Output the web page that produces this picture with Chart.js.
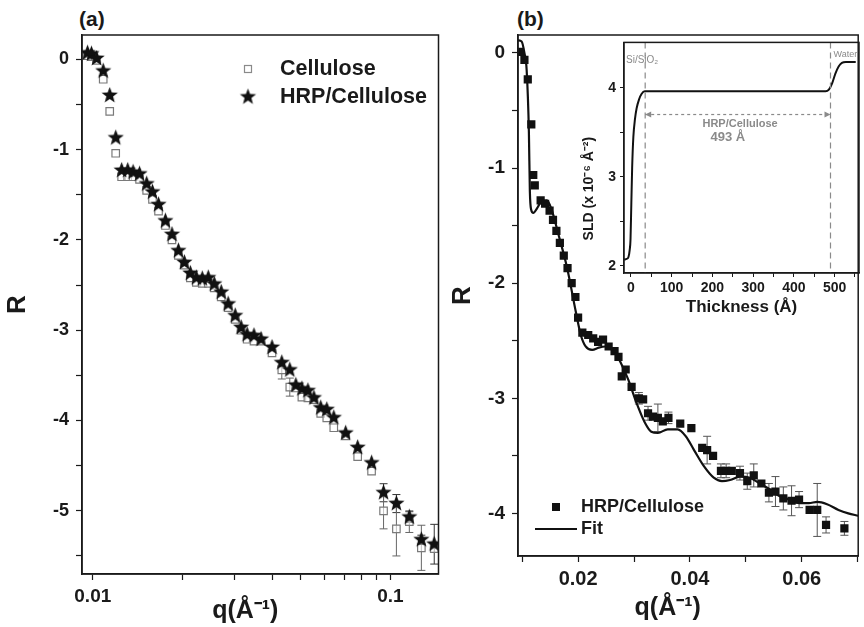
<!DOCTYPE html>
<html>
<head>
<meta charset="utf-8">
<script src="https://cdn.jsdelivr.net/npm/chart.js@4.4.0/dist/chart.umd.min.js"></script>
<style>
  body { margin: 0; background: #fff; width: 864px; height: 627px; overflow: hidden; position: relative; font-family: "Liberation Sans", Arial, sans-serif; }
  canvas { position: absolute; }
  #cA { left: 0; top: 0; }
  #cB { left: 445px; top: 0; }
  #cI { left: 570px; top: 30px; }
  .panel { position: absolute; font-weight: bold; font-size: 21px; color: #1a1a1a; }
</style>
</head>
<body>
<div class="panel" style="left:79px;top:7px">(a)</div>
<div class="panel" style="left:517px;top:7px">(b)</div>
<canvas id="cA" width="445" height="627"></canvas>
<canvas id="cB" width="419" height="627"></canvas>
<canvas id="cI" width="294" height="290"></canvas>
<script>
// ---- panel (a): reflectivity, log q ----
const qA = [0.0096, 0.0099, 0.0103, 0.01084, 0.0114, 0.01194, 0.0125, 0.0131, 0.01366, 0.01436,
  0.01517, 0.01587, 0.01663, 0.01754, 0.01845, 0.01939, 0.0203, 0.02127, 0.02228, 0.02333,
  0.02443, 0.02559, 0.027, 0.0285, 0.0301, 0.0315, 0.033, 0.0348, 0.03675, 0.04,
  0.04315, 0.0459, 0.0481, 0.0504, 0.0528, 0.0553, 0.0583, 0.0611, 0.0645, 0.0707,
  0.0776, 0.0864, 0.0948, 0.1047, 0.1157, 0.127, 0.1403];
const hrpCellR = [0.07, 0.06, 0.01, -0.13, -0.40, -0.87, -1.23, -1.23, -1.25, -1.27,
  -1.38, -1.47, -1.61, -1.79, -1.94, -2.12, -2.25, -2.37, -2.42, -2.43,
  -2.42, -2.49, -2.58, -2.71, -2.84, -2.97, -3.05, -3.06, -3.10, -3.19,
  -3.36, -3.44, -3.61, -3.65, -3.67, -3.75, -3.86, -3.88, -3.97, -4.14,
  -4.30, -4.47, -4.80, -4.92, -5.07, -5.32, -5.37];
const hrpCellErr = [0,0,0,0,0,0,0,0,0,0, 0,0,0,0,0,0,0,0,0,0, 0,0,0,0,0,0,0,0,0,0,
  0,0,0,0,0,0,0,0,0,0, 0,0,0.1,0.1,0.06,0.05,0.22];
const celluloseR = [0.04, 0.03, -0.01, -0.22, -0.575, -1.04, -1.30, -1.30, -1.30, -1.33,
  -1.45, -1.55, -1.68, -1.84, -2.0, -2.17, -2.28, -2.42, -2.47, -2.48,
  -2.48, -2.53, -2.63, -2.75, -2.88, -3.0, -3.1, -3.12, -3.12, -3.25,
  -3.44, -3.63, -3.64, -3.74, -3.75, -3.77, -3.92, -3.97, -4.08, -4.17,
  -4.40, -4.56, -5.0, -5.2, -5.12, -5.41, -5.42];
const celluloseErr = [0,0,0,0,0,0,0,0,0,0, 0,0,0,0,0,0,0,0,0,0, 0,0,0,0,0,0,0,0,0,0,
  0.1,0.1,0,0,0,0,0,0,0,0, 0,0,0.2,0.3,0.12,0.25,0];
const aXTicks = [0.01, 0.02, 0.03, 0.04, 0.05, 0.06, 0.07, 0.08, 0.09, 0.1];
const aXLabels = [0.01, 0.1];
const aYTicks = [0, -0.5, -1, -1.5, -2, -2.5, -3, -3.5, -4, -4.5, -5, -5.5];

// ---- panel (b): reflectivity + fit, linear q ----
const qB = [0.0096, 0.0104, 0.0110, 0.01163, 0.01198, 0.01225, 0.0133, 0.0141, 0.0149, 0.01551,
  0.01612, 0.01674, 0.01744, 0.01811, 0.01885, 0.01952, 0.0200, 0.02076, 0.02181, 0.0227,
  0.02358, 0.02446, 0.02546, 0.02652, 0.02722, 0.02781, 0.02851, 0.02957, 0.03087, 0.03163,
  0.03251, 0.03339, 0.03427, 0.03515, 0.03616, 0.03827, 0.04026, 0.0422, 0.04308, 0.04414,
  0.04555, 0.04648, 0.04749, 0.04895, 0.05026, 0.05142, 0.05278, 0.05413, 0.0553, 0.05671,
  0.05818, 0.05952, 0.06141, 0.06277, 0.06435, 0.06763];
const rB = [0.01, -0.06, -0.23, -0.62, -1.06, -1.15, -1.28, -1.31, -1.37, -1.45,
  -1.545, -1.65, -1.76, -1.87, -2.0, -2.12, -2.30, -2.43, -2.45, -2.48,
  -2.51, -2.49, -2.55, -2.59, -2.64, -2.81, -2.75, -2.90, -3.0, -3.01,
  -3.13, -3.16, -3.17, -3.2, -3.17, -3.22, -3.26, -3.43, -3.45, -3.50,
  -3.63, -3.63, -3.63, -3.65, -3.72, -3.67, -3.74, -3.82, -3.81, -3.87,
  -3.89, -3.88, -3.97, -3.97, -4.10, -4.13];
const rBErr = [0,0,0,0,0,0,0,0,0,0, 0,0,0,0,0,0,0,0,0,0, 0,0,0,0,0,0,0,0,0.05,0,
  0.06,0,0.12,0,0.05,0,0,0,0.12,0, 0.06,0.06,0,0.06,0.07,0.1,0,0.08,0.13,0.1,
  0.13,0.07,0,0.23,0.07,0.06];
const fitQ = [0.00925, 0.0099, 0.0104, 0.0108, 0.0112, 0.01137, 0.0116, 0.0120, 0.01265, 0.01343,
  0.01441, 0.01519, 0.0165, 0.018, 0.0196, 0.02048, 0.02135, 0.02252, 0.0237, 0.02488,
  0.02634, 0.02752, 0.02899, 0.03045, 0.03193, 0.03309, 0.03427, 0.03603, 0.0378, 0.03926,
  0.04074, 0.0425, 0.04426, 0.04573, 0.04719, 0.04895, 0.05071, 0.05248, 0.05424, 0.056,
  0.05776, 0.05952, 0.06129, 0.06277, 0.06453, 0.06657, 0.06833, 0.0701];
const fitR = [0.11, 0.10, 0.0, -0.15, -0.69, -1.2, -1.36, -1.39, -1.35, -1.29,
  -1.28, -1.35, -1.58, -1.86, -2.25, -2.45, -2.55, -2.58, -2.56, -2.55,
  -2.58, -2.68, -2.84, -3.04, -3.21, -3.29, -3.30, -3.27, -3.27, -3.33,
  -3.45, -3.59, -3.69, -3.72, -3.71, -3.68, -3.69, -3.74, -3.79, -3.85,
  -3.88, -3.91, -3.91, -3.90, -3.92, -3.97, -4.0, -4.02];
const bXTicks = [0.01, 0.02, 0.03, 0.04, 0.05, 0.06, 0.07];
const bXLabels = [0.02, 0.04, 0.06];
const bYTicks = [0, -0.5, -1, -1.5, -2, -2.5, -3, -3.5, -4];

// ---- inset: SLD profile ----
const thickness = [-17, -10, -6, -3, -1, 1, 3, 6, 10, 14, 20, 26, 34, 100, 200, 300, 400, 478,
  486, 494, 502, 510, 518, 528, 552];
const sld = [2.07, 2.08, 2.1, 2.18, 2.3, 2.7, 3.1, 3.45, 3.65, 3.77, 3.87, 3.93, 3.96, 3.96, 3.96, 3.96, 3.96, 3.96,
  3.98, 4.05, 4.16, 4.24, 4.28, 4.29, 4.29];
const layerEdges = [35, 490];
const arrowSld = 3.70;
const iXTicks = [0, 50, 100, 150, 200, 250, 300, 350, 400, 450, 500, 550];
const iYTicks = [2, 2.5, 3, 3.5, 4];

const FONT = '"Liberation Sans", Arial, sans-serif';
const INK = '#1a1a1a';
const GREY = '#8a8a8a';

// filled five point star used as a marker
function makeStar(r) {
  const c = document.createElement('canvas');
  c.width = c.height = Math.ceil(r * 2 + 2);
  const g = c.getContext('2d');
  const cx = c.width / 2, cy = c.height / 2;
  g.beginPath();
  for (let i = 0; i < 10; i++) {
    const rr = i % 2 === 0 ? r : r * 0.42;
    const a = -Math.PI / 2 + i * Math.PI / 5;
    g.lineTo(cx + rr * Math.cos(a), cy + rr * Math.sin(a));
  }
  g.closePath();
  g.fillStyle = '#111';
  g.fill();
  return c;
}
const star = makeStar(8.5);

function pts(xs, ys) {
  return xs.map((x, i) => ({ x: x, y: ys[i] }));
}

// box around the plot area
const frame = {
  id: 'frame',
  afterDraw(chart) {
    const { ctx, chartArea: ca } = chart;
    ctx.save();
    ctx.strokeStyle = INK;
    ctx.lineWidth = 1.5;
    ctx.strokeRect(ca.left, ca.top, ca.width, ca.height);
    ctx.restore();
  }
};

// x title, a bit left of centre like in the figure
function xTitle(frac, y) {
  return {
    id: 'xTitle',
    afterDraw(chart) {
      const { ctx, chartArea: ca } = chart;
      ctx.save();
      ctx.fillStyle = INK;
      ctx.font = 'bold 25px ' + FONT;
      ctx.textAlign = 'center';
      ctx.textBaseline = 'middle';
      ctx.fillText('q(Å⁻¹)', ca.left + ca.width * frac, y);
      ctx.restore();
    }
  };
}

// vertical error bars under the markers
const errorBars = {
  id: 'errorBars',
  beforeDatasetsDraw(chart) {
    const { ctx, chartArea: ca, scales } = chart;
    ctx.save();
    ctx.beginPath();
    ctx.rect(ca.left, ca.top, ca.width, ca.height);
    ctx.clip();
    chart.data.datasets.forEach(ds => {
      if (!ds.errors) return;
      ctx.strokeStyle = ds.errorColor;
      ctx.lineWidth = 1;
      ds.data.forEach((p, i) => {
        const e = ds.errors[i];
        if (!e) return;
        const x = scales.x.getPixelForValue(p.x);
        const y1 = scales.y.getPixelForValue(p.y + e);
        const y2 = scales.y.getPixelForValue(p.y - e);
        ctx.beginPath();
        ctx.moveTo(x, y1); ctx.lineTo(x, y2);
        ctx.moveTo(x - 4, y1); ctx.lineTo(x + 4, y1);
        ctx.moveTo(x - 4, y2); ctx.lineTo(x + 4, y2);
        ctx.stroke();
      });
    });
    ctx.restore();
  }
};

function axisX(type, min, max, ticks, labels, size, height) {
  return {
    type: type, min: min, max: max,
    afterBuildTicks: s => { s.ticks = ticks.map(v => ({ value: v })); },
    afterFit: s => { s.height = height; },
    grid: { drawOnChartArea: false, tickLength: 6, tickColor: INK, tickWidth: 1.2 },
    border: { color: INK, width: 1.5 },
    ticks: {
      autoSkip: false, maxRotation: 0, padding: 5, color: INK,
      font: { family: FONT, size: size, weight: 'bold' },
      callback: v => labels.includes(v) ? String(v) : ''
    },
    title: { display: false }
  };
}

function axisY(min, max, ticks, size, width) {
  return {
    min: min, max: max,
    afterBuildTicks: s => { s.ticks = ticks.map(v => ({ value: v })); },
    afterFit: s => { s.width = width; },
    grid: { drawOnChartArea: false, tickLength: 6, tickColor: INK, tickWidth: 1.2 },
    border: { color: INK, width: 1.5 },
    ticks: {
      padding: 7, color: INK,
      font: { family: FONT, size: size, weight: 'bold' },
      callback: v => Number.isInteger(v) ? String(v) : ''
    },
    title: { display: true, text: 'R', color: INK, padding: { top: 2, bottom: 0 },
      font: { family: FONT, size: 26, weight: 'bold' } }
  };
}

// legend for panel (a)
const legendA = {
  id: 'legendA',
  afterDraw(chart) {
    const { ctx, chartArea: ca } = chart;
    const sx = ca.left + 166, tx = ca.left + 198;
    const y1 = ca.top + 34, y2 = ca.top + 62;
    ctx.save();
    ctx.strokeStyle = GREY; ctx.lineWidth = 1.2;
    ctx.strokeRect(sx - 3.5, y1 - 3.5, 7, 7);
    ctx.drawImage(star, sx - star.width / 2, y2 - star.height / 2);
    ctx.fillStyle = INK;
    ctx.font = 'bold 21.5px ' + FONT;
    ctx.textBaseline = 'middle';
    ctx.fillText('Cellulose', tx, y1);
    ctx.fillText('HRP/Cellulose', tx, y2);
    ctx.restore();
  }
};

new Chart(document.getElementById('cA'), {
  type: 'scatter',
  data: {
    datasets: [
      { label: 'HRP/Cellulose', data: pts(qA, hrpCellR), pointStyle: star, order: 0,
        errors: hrpCellErr, errorColor: '#333' },
      { label: 'Cellulose', data: pts(qA, celluloseR), pointStyle: 'rect', pointRadius: 5.3,
        borderColor: '#7a7a7a', backgroundColor: 'rgba(255,255,255,0.6)', borderWidth: 1.2, order: 1,
        errors: celluloseErr, errorColor: '#666' }
    ]
  },
  options: {
    responsive: false, animation: false,
    layout: { padding: { left: 0, top: 35, right: 5, bottom: 0 } },
    plugins: { legend: { display: false }, tooltip: { enabled: false } },
    scales: {
      x: axisX('logarithmic', 0.0092, 0.145, aXTicks, aXLabels, 19, 53),
      y: axisY(-5.7, 0.27, aYTicks, 18, 82)
    }
  },
  plugins: [errorBars, frame, legendA, xTitle(0.458, 611)]
});

// legend for panel (b)
const legendB = {
  id: 'legendB',
  afterDraw(chart) {
    const { ctx, chartArea: ca } = chart;
    const sx = ca.left + 38, tx = ca.left + 63;
    const y1 = ca.bottom - 49, y2 = ca.bottom - 27;
    ctx.save();
    ctx.fillStyle = '#111';
    ctx.fillRect(sx - 4, y1 - 4, 8, 8);
    ctx.strokeStyle = '#111'; ctx.lineWidth = 2;
    ctx.beginPath(); ctx.moveTo(ca.left + 17, y2); ctx.lineTo(ca.left + 59, y2); ctx.stroke();
    ctx.fillStyle = INK;
    ctx.font = 'bold 18px ' + FONT;
    ctx.textBaseline = 'middle';
    ctx.fillText('HRP/Cellulose', tx, y1);
    ctx.fillText('Fit', tx, y2);
    ctx.restore();
  }
};

new Chart(document.getElementById('cB'), {
  type: 'scatter',
  data: {
    datasets: [
      { label: 'HRP/Cellulose', data: pts(qB, rB), pointStyle: 'rect', pointRadius: 5.8,
        backgroundColor: '#111', borderColor: '#111', borderWidth: 0, order: 0,
        errors: rBErr, errorColor: '#555' },
      { label: 'Fit', data: pts(fitQ, fitR), showLine: true, pointRadius: 0, borderColor: '#111',
        borderWidth: 2.2, cubicInterpolationMode: 'monotone', order: 1 }
    ]
  },
  options: {
    responsive: false, animation: false,
    layout: { padding: { left: 0, top: 35, right: 1, bottom: 0 } },
    plugins: { legend: { display: false }, tooltip: { enabled: false } },
    scales: {
      x: axisX('linear', 0.00925, 0.0701, bXTicks, bXLabels, 20, 71),
      y: axisY(-4.37, 0.156, bYTicks, 19, 73)
    }
  },
  plugins: [errorBars, frame, legendB, xTitle(0.44, 608)]
});

// dashed layer edges, thickness arrow and labels in the inset
const insetMarks = {
  id: 'insetMarks',
  afterDatasetsDraw(chart) {
    const { ctx, chartArea: ca, scales: { x, y } } = chart;
    const x1 = x.getPixelForValue(layerEdges[0]);
    const x2 = x.getPixelForValue(layerEdges[1]);
    const ya = y.getPixelForValue(arrowSld);
    ctx.save();
    ctx.strokeStyle = GREY; ctx.lineWidth = 1.2;
    ctx.setLineDash([6, 4]);
    [x1, x2].forEach(px => {
      ctx.beginPath(); ctx.moveTo(px, ca.top); ctx.lineTo(px, ca.bottom); ctx.stroke();
    });
    ctx.setLineDash([3, 3]);
    ctx.beginPath(); ctx.moveTo(x1, ya); ctx.lineTo(x2, ya); ctx.stroke();
    ctx.setLineDash([]);
    ctx.fillStyle = GREY;
    ctx.beginPath(); ctx.moveTo(x1, ya); ctx.lineTo(x1 + 6, ya - 3); ctx.lineTo(x1 + 6, ya + 3); ctx.fill();
    ctx.beginPath(); ctx.moveTo(x2, ya); ctx.lineTo(x2 - 6, ya - 3); ctx.lineTo(x2 - 6, ya + 3); ctx.fill();
    ctx.textAlign = 'center'; ctx.textBaseline = 'middle';
    ctx.font = 'bold 11px ' + FONT;
    ctx.fillText('HRP/Cellulose', x.getPixelForValue(268), ya + 9);
    ctx.font = 'bold 13px ' + FONT;
    ctx.fillText('493 Å', x.getPixelForValue(238), ya + 23);
    ctx.textAlign = 'left';
    ctx.font = '10px ' + FONT;
    ctx.fillText('Si/SiO₂', ca.left + 2, ca.top + 18);
    ctx.font = '9px ' + FONT;
    ctx.fillText('Water', x2 + 3, ca.top + 12);
    // y title, a little below the middle as in the figure
    ctx.fillStyle = INK;
    ctx.font = 'bold 14px ' + FONT;
    ctx.translate(ca.left - 35, ca.top + 139);
    ctx.rotate(-Math.PI / 2);
    ctx.fillText('SLD (x 10⁻⁶ Å⁻²)', -59, 0);
    ctx.restore();
  }
};

new Chart(document.getElementById('cI'), {
  type: 'scatter',
  data: {
    datasets: [
      { label: 'SLD', data: pts(thickness, sld), showLine: true, pointRadius: 0, borderColor: '#111',
        borderWidth: 2, cubicInterpolationMode: 'monotone' }
    ]
  },
  options: {
    responsive: false, animation: false,
    layout: { padding: { left: 0, top: 5, right: 5, bottom: 0 } },
    plugins: { legend: { display: false }, tooltip: { enabled: false } },
    scales: {
      x: {
        type: 'linear', min: -17, max: 560,
        afterBuildTicks: s => { s.ticks = iXTicks.map(v => ({ value: v })); },
        afterFit: s => { s.height = 47; },
        grid: { drawOnChartArea: false, tickLength: 4, tickColor: INK },
        border: { color: INK, width: 1.2 },
        ticks: { autoSkip: false, maxRotation: 0, padding: 3, color: INK,
          font: { family: FONT, size: 14, weight: 'bold' },
          callback: v => v % 100 === 0 ? String(v) : '' },
        title: { display: true, text: 'Thickness (Å)', color: INK, padding: { top: 0, bottom: 2 },
          font: { family: FONT, size: 17, weight: 'bold' } }
      },
      y: {
        min: 1.92, max: 4.51,
        afterBuildTicks: s => { s.ticks = iYTicks.map(v => ({ value: v })); },
        afterFit: s => { s.width = 54; },
        grid: { drawOnChartArea: false, tickLength: 4, tickColor: INK },
        border: { color: INK, width: 1.2 },
        ticks: { padding: 4, color: INK, font: { family: FONT, size: 14, weight: 'bold' },
          callback: v => Number.isInteger(v) ? String(v) : '' }
      }
    }
  },
  plugins: [frame, insetMarks]
});
</script>
</body>
</html>
